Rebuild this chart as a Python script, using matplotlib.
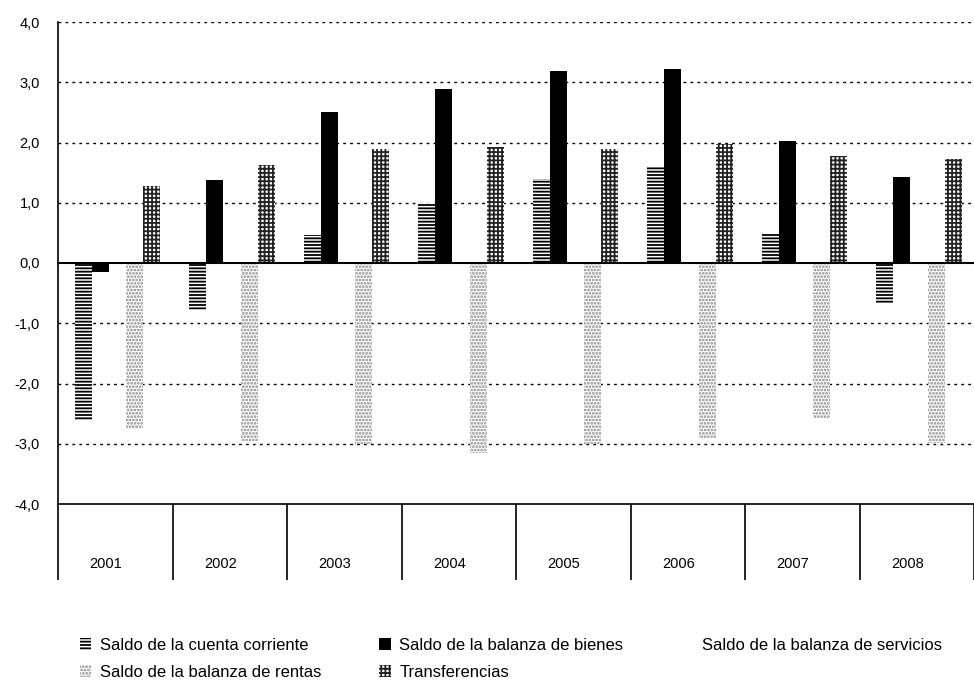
import numpy as np
import matplotlib.pyplot as plt
from matplotlib.ticker import FuncFormatter

plt.rcParams['font.family'] = ['Liberation Sans', 'DejaVu Sans']
plt.rcParams['hatch.linewidth'] = 1.3

years = ['2001', '2002', '2003', '2004', '2005', '2006', '2007', '2008']
cuenta_corriente = [-2.6, -0.78, 0.47, 1.0, 1.4, 1.6, 0.48, -0.68]
bienes = [-0.15, 1.38, 2.5, 2.88, 3.18, 3.22, 2.03, 1.43]
servicios = [0.2, 0.2, 0.2, 0.2, 0.2, 0.2, 0.2, 0.2]  # drawn white, not visible
rentas = [-2.75, -2.95, -3.0, -3.15, -3.0, -2.9, -2.57, -2.98]
transferencias = [1.28, 1.62, 1.9, 1.93, 1.9, 1.97, 1.77, 1.72]

labels = ['Saldo de la cuenta corriente', 'Saldo de la balanza de bienes',
          'Saldo de la balanza de servicios', 'Saldo de la balanza de rentas',
          'Transferencias']

fig = plt.figure(figsize=(9.74, 6.82), dpi=100)
ax = fig.add_axes([58/974, 178/682, 916/974, 482/682])

x = np.arange(len(years)) + 0.02
w = 0.15
b1 = ax.bar(x - 2*w, cuenta_corriente, w, facecolor='white', edgecolor='black',
            hatch='-----', linewidth=0, zorder=2)
b2 = ax.bar(x - w, bienes, w, color='black', zorder=2)
b3 = ax.bar(x, servicios, w, color='white', linewidth=0, zorder=2)
b4 = ax.bar(x + w, rentas, w, facecolor='white', edgecolor='#858585',
            hatch='.....', linewidth=0, zorder=2)
b5 = ax.bar(x + 2*w, transferencias, w, facecolor='white', edgecolor='#222222',
            hatch='++++', linewidth=0, zorder=2)

ax.set_ylim(-4, 4)
ax.set_xlim(-0.5, 7.355)
ax.set_yticks(np.arange(-4, 5, 1))
ax.yaxis.set_major_formatter(FuncFormatter(lambda v, p: f'{v:.1f}'.replace('.', ',')))
ax.tick_params(axis='y', length=0, pad=13, labelsize=10.5)

for v in [-3, -2, -1, 1, 2, 3, 4]:
    ax.axhline(v, color='black', linestyle=(0, (2, 3)), linewidth=1.0, zorder=1)
ax.axhline(0, color='black', linewidth=1.5, zorder=3)

ax.set_xticks(np.arange(len(years)) - 0.08)
ax.set_xticklabels(years)
ax.set_xticks(np.arange(-0.5, 8, 1), minor=True)
ax.tick_params(axis='x', which='major', length=0, pad=38, labelsize=10.5)
ax.tick_params(axis='x', which='minor', length=55, width=1.2, direction='out')

ax.spines['top'].set_visible(False)
ax.spines['right'].set_visible(False)
ax.spines['left'].set_linewidth(1.2)
ax.spines['bottom'].set_linewidth(1.2)

handles = [b1, b4, b2, b5, b3]
hl = [labels[0], labels[3], labels[1], labels[4], labels[2]]
fig.legend(handles, hl, ncol=3, loc='upper left', bbox_to_anchor=(0.075, 0.075),
           frameon=False, fontsize=12, handlelength=0.7, handleheight=0.7,
           handletextpad=0.5, columnspacing=3.5, labelspacing=0.75,
           borderaxespad=0)

fig.savefig('out.png', dpi=100)
